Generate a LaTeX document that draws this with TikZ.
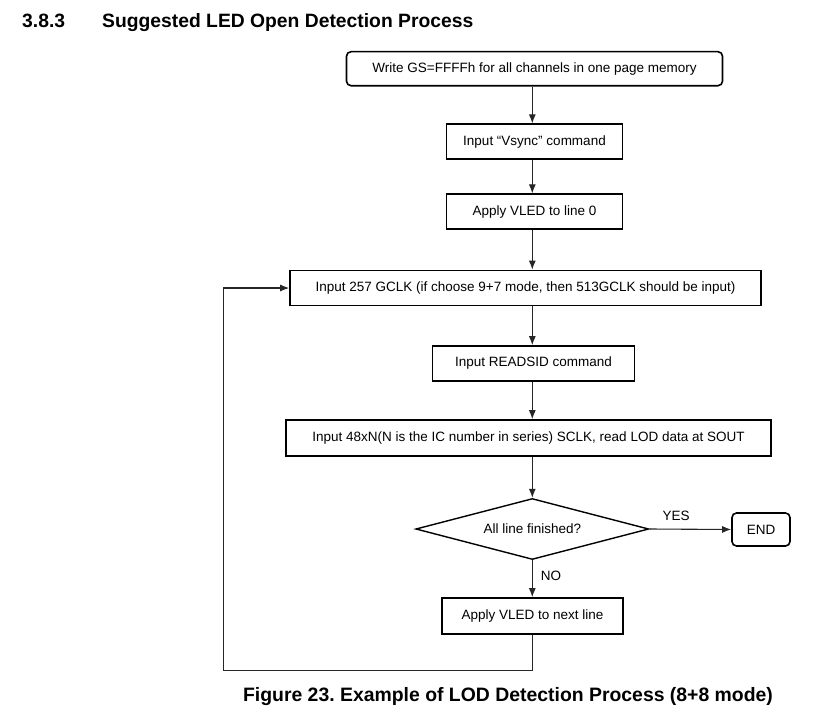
\documentclass[tikz,border=0pt]{standalone}
\usepackage{fontspec}
\setmainfont{Liberation Sans}
\usetikzlibrary{shapes.geometric,arrows.meta,calc}
\frenchspacing
\begin{document}
\begin{tikzpicture}[x=1pt,y=-1pt,
  txt/.style={font=\fontsize{13.5}{16}\selectfont},
  box/.style={draw=black,line width=1.6pt,inner sep=0pt,align=center,txt},
  rbox/.style={box,rounded corners=4.5pt},
  dec/.style={draw=black,line width=1.4pt,diamond,aspect=3.82,inner sep=0pt,
    minimum width=233pt,minimum height=61pt,txt},
  conn/.style={draw=black!85,line width=1.1pt},
  arr/.style={conn,-{Latex[length=9pt,width=7pt]}},
  lbl/.style={txt,inner sep=0pt},
  ttl/.style={font=\fontsize{19.3}{22}\selectfont\bfseries,inner sep=0pt,anchor=base west}]
\useasboundingbox (0,0) rectangle (816,717);

\node[ttl] (num) at (22,28) {3.8.3};
\node[ttl] (title) at (102,28) {Suggested LED Open Detection Process};

\coordinate (ax) at (532.3,0);

\node[rbox,minimum width=376pt,minimum height=34pt] (b1) at (534.5,68.7) {Write GS=FFFFh for all channels in one page memory};
\node[box,minimum width=176pt,minimum height=35pt] (b2) at (534.5,141.7) {Input “Vsync” command};
\node[box,minimum width=176pt,minimum height=35pt] (b3) at (534.5,211.7) {Apply VLED to line 0};
\node[box,minimum width=471pt,minimum height=35pt] (b4) at (525.5,288) {Input 257 GCLK (if choose 9+7 mode, then 513GCLK should be input)};
\node[box,minimum width=202pt,minimum height=35pt] (b5) at (533.5,363.5) {Input READSID command};
\node[box,minimum width=485pt,minimum height=36pt] (b6) at (528.5,438) {Input 48xN(N is the IC number in series) SCLK, read LOD data at SOUT};
\node[dec] (d) at (532.3,529) {All line finished?};
\node[rbox,minimum width=58pt,minimum height=33pt] (end) at (761,529.5) {END};
\node[box,minimum width=181pt,minimum height=36pt] (b7) at (532.5,616) {Apply VLED to next line};

\node[lbl] (yes) at (676,516) {YES};
\node[lbl] (no) at (551,576) {NO};

\coordinate (lb) at (223.3,670.7);

\draw[arr] (b1.south -| ax) -- (b2.north -| ax);
\draw[arr] (b2.south -| ax) -- (b3.north -| ax);
\draw[arr] (b3.south -| ax) -- (b4.north -| ax);
\draw[arr] (b4.south -| ax) -- (b5.north -| ax);
\draw[arr] (b5.south -| ax) -- (b6.north -| ax);
\draw[arr] (b6.south -| ax) -- (d.north);
\draw[arr] (d.south) -- (b7.north -| d.south);
\draw[arr] (d.east) -- (end.west);
\draw[arr] (b7.south -| ax) |- (lb) |- (b4.west);

\node[font=\fontsize{19.4}{22}\selectfont\bfseries,inner sep=0pt,anchor=base] (cap) at (508,701) {Figure 23. Example of LOD Detection Process (8+8 mode)};
\end{tikzpicture}
\end{document}
